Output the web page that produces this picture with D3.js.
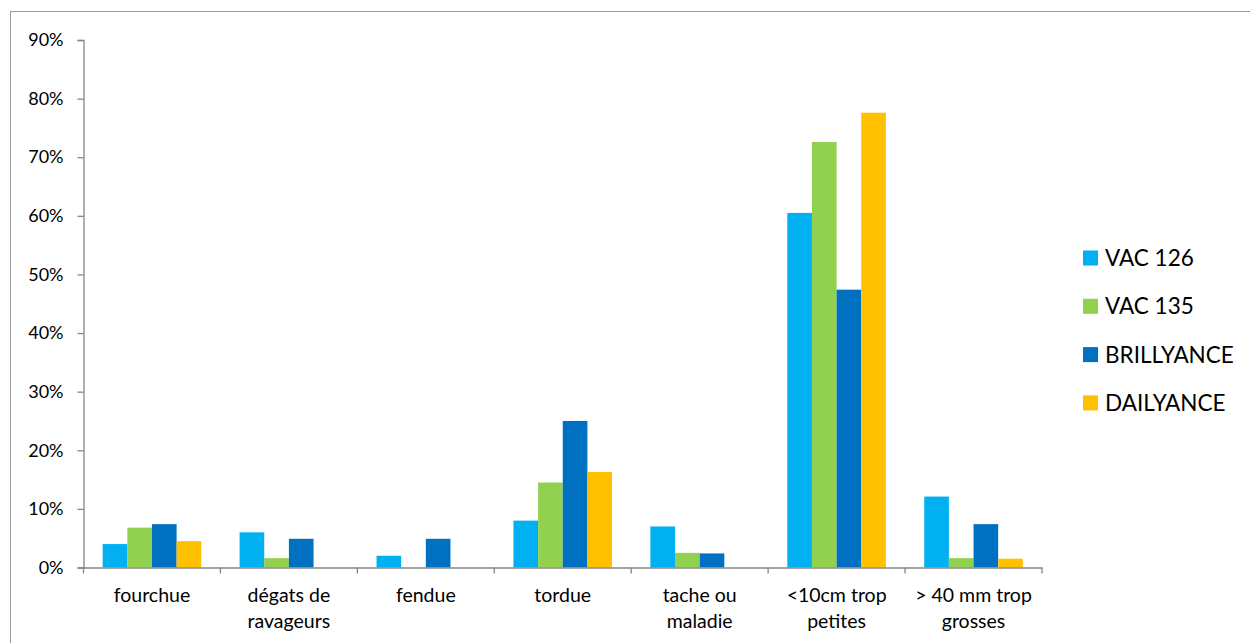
<!DOCTYPE html>
<html>
<head>
<meta charset="utf-8">
<script src="https://cdn.jsdelivr.net/npm/d3@7"></script>
<style>
  body { margin: 0; background: #fff; }
  svg text { font-family: Lato, "Open Sans", sans-serif; fill: #000; }
</style>
</head>
<body>
<svg id="chart" width="1250" height="643"></svg>
<script>
// categories (two-line labels split with |)
const categories = ["fourchue", "dégats de|ravageurs", "fendue", "tordue", "tache ou|maladie", "<10cm trop|petites", "> 40 mm trop|grosses"];
const seriesNames = ["VAC 126", "VAC 135", "BRILLYANCE", "DAILYANCE"];
const vac126 = [0.040, 0.060, 0.020, 0.080, 0.070, 0.605, 0.121];
const vac135 = [0.068, 0.016, 0, 0.145, 0.025, 0.726, 0.016];
const brillyance = [0.074, 0.049, 0.049, 0.250, 0.024, 0.474, 0.074];
const dailyance = [0.045, 0, 0, 0.163, 0, 0.776, 0.015];
const yTicks = [0, 0.1, 0.2, 0.3, 0.4, 0.5, 0.6, 0.7, 0.8, 0.9];
const colors = ["#00B0F0", "#92D050", "#0070C0", "#FFC000"];

const allSeries = [vac126, vac135, brillyance, dailyance];
const svg = d3.select("#chart");

// outer frame of the chart area
svg.append("rect")
    .attr("x", 10.5).attr("y", 11.5)
    .attr("width", 1300).attr("height", 700)
    .attr("fill", "none").attr("stroke", "#9a9a9a").attr("stroke-width", 1);

const plotLeft = 83.5, plotRight = 1042, plotTop = 40, plotBottom = 567.5;

let y = d3.scaleLinear().domain([0, 0.9]).range([plotBottom, plotTop]);
let x0 = d3.scaleBand().domain(categories).range([plotLeft, plotRight]).padding(0);
let gap = x0.bandwidth() * 0.28;
let x1 = d3.scaleBand().domain(seriesNames).range([gap / 2, x0.bandwidth() - gap / 2]).padding(0);

// bars
let groups = svg.append("g").selectAll("g")
    .data(categories)
    .enter()
    .append("g")
    .attr("transform", d => `translate(${x0(d)},0)`);

groups.selectAll("rect")
    .data((d, i) => allSeries.map((s, k) => ({ name: seriesNames[k], v: s[i], c: colors[k] })))
    .enter()
    .append("rect")
    .attr("x", d => x1(d.name))
    .attr("y", d => y(d.v))
    .attr("width", x1.bandwidth())
    .attr("height", d => plotBottom - y(d.v))
    .attr("fill", d => d.c);

// y axis
let yAxis = svg.append("g")
    .attr("transform", `translate(${plotLeft},0)`)
    .call(d3.axisLeft(y).tickValues(yTicks).tickFormat(d3.format(".0%")).tickSize(6).tickPadding(14));
yAxis.select(".domain").attr("stroke", "#868686").attr("stroke-width", 1.3);
yAxis.selectAll(".tick line").attr("stroke", "#868686").attr("stroke-width", 1.3);
yAxis.selectAll(".tick text").style("font-size", "18px").attr("fill", "#000");

// x axis
let xAxis = svg.append("g")
    .attr("transform", `translate(0,${plotBottom})`)
    .call(d3.axisBottom(x0).tickSize(0).tickFormat(""));
xAxis.select(".domain").attr("stroke", "#868686").attr("stroke-width", 1.3);
xAxis.selectAll(".tick").remove();

let edges = categories.map(c => x0(c)).concat([plotRight]);
xAxis.selectAll("line.sep")
    .data(edges)
    .enter()
    .append("line")
    .attr("class", "sep")
    .attr("x1", d => d).attr("x2", d => d)
    .attr("y1", 0).attr("y2", 6)
    .attr("stroke", "#868686").attr("stroke-width", 1.3);

let labels = svg.append("g").selectAll("text")
    .data(categories)
    .enter()
    .append("text")
    .attr("x", d => x0(d) + x0.bandwidth() / 2)
    .attr("y", 602)
    .attr("text-anchor", "middle")
    .style("font-size", "19.5px");
labels.each(function (d) {
    let parts = d.split("|");
    parts.forEach((p, i) => {
        d3.select(this).append("tspan")
            .attr("x", x0(d) + x0.bandwidth() / 2)
            .attr("dy", i === 0 ? 0 : 26)
            .text(p);
    });
});

// legend
let legend = svg.append("g").selectAll("g")
    .data(seriesNames)
    .enter()
    .append("g")
    .attr("transform", (d, i) => `translate(1083,${258 + i * 48.3})`);
legend.append("rect")
    .attr("x", 0).attr("y", -7.5)
    .attr("width", 15).attr("height", 15)
    .attr("fill", (d, i) => colors[i]);
legend.append("text")
    .attr("x", 22).attr("y", 0)
    .attr("dy", "0.36em")
    .style("font-size", "22.5px")
    .text(d => d);
</script>
</body>
</html>
